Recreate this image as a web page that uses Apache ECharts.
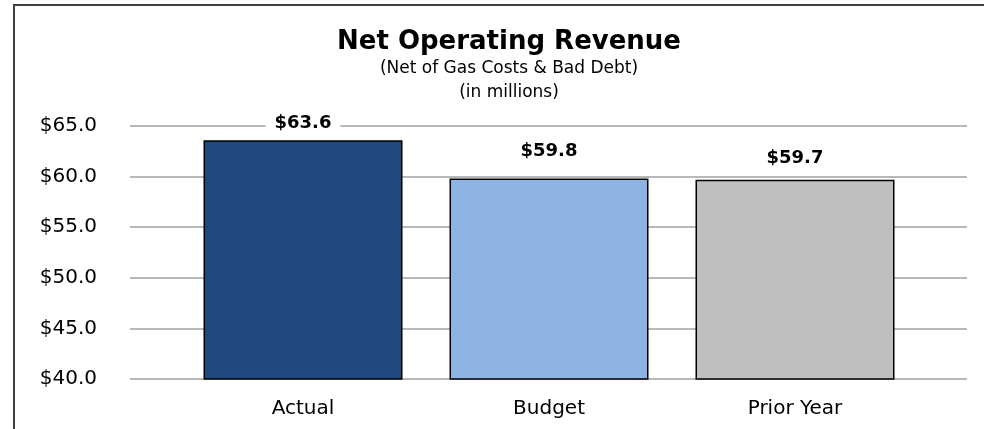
<!DOCTYPE html>
<html>
<head>
<meta charset="utf-8">
<title>Net Operating Revenue</title>
<script src="https://cdn.jsdelivr.net/npm/echarts@6/dist/echarts.min.js"></script>
<style>
  html, body { margin: 0; padding: 0; background: #ffffff; }
  #chart { width: 984px; height: 429px; }
</style>
</head>
<body>
<div id="chart"></div>
<script>
// Revenue figures, in millions of dollars
const categories = ['Actual', 'Budget', 'Prior Year'];
const revenue = [63.6, 59.8, 59.7];
const yTicks = [40, 45, 50, 55, 60, 65];

const barColors = ['#1F497D', '#8DB3E2', '#BFBFBF'];
const labelGap = [6, 16, 10];

const chart = echarts.init(document.getElementById('chart'), null, { renderer: 'canvas' });

const yMin = yTicks[0];
const yMax = yTicks[yTicks.length - 1];
const yStep = yTicks[1] - yTicks[0];
const font = 'DejaVu Sans';

chart.setOption({
  animation: false,
  backgroundColor: '#ffffff',
  title: {
    text: 'Net Operating Revenue',
    subtext: '(Net of Gas Costs & Bad Debt)\n(in millions)',
    left: 504,
    top: 24,
    textAlign: 'center',
    itemGap: 2,
    textStyle: { fontFamily: font, fontSize: 26, fontWeight: 'bold', color: '#000000' },
    subtextStyle: { fontFamily: font, fontSize: 17, color: '#000000', lineHeight: 24 }
  },
  grid: [
    // value scale and gridlines
    { left: 130, right: 17, top: 126, bottom: 50 },
    // bars
    { left: 180, right: 66, top: 126, bottom: 50 }
  ],
  xAxis: [
    { gridIndex: 0, type: 'value', show: false },
    {
      gridIndex: 1,
      type: 'category',
      data: categories,
      axisLine: { show: false },
      axisTick: { show: false },
      axisLabel: { margin: 20, fontFamily: font, fontSize: 20, color: '#000000' }
    }
  ],
  yAxis: [
    {
      gridIndex: 0,
      type: 'value',
      min: yMin,
      max: yMax,
      interval: yStep,
      axisLine: { show: false },
      axisTick: { show: false },
      axisLabel: {
        margin: 33,
        fontFamily: font,
        fontSize: 20,
        color: '#000000',
        formatter: v => '$' + v.toFixed(1)
      },
      splitLine: { show: true, lineStyle: { color: '#A0A0A0', width: 1.5 } }
    },
    { gridIndex: 1, type: 'value', min: yMin, max: yMax, interval: yStep, show: false, splitLine: { show: false } }
  ],
  series: [{
    type: 'bar',
    xAxisIndex: 1,
    yAxisIndex: 1,
    barWidth: 199,
    data: revenue.map((v, i) => ({
      value: v,
      itemStyle: { color: barColors[i] },
      label: { distance: labelGap[i] }
    })),
    itemStyle: { borderColor: '#000000', borderWidth: 1.5 },
    label: {
      show: true,
      position: 'top',
      fontFamily: font,
      fontSize: 18,
      fontWeight: 'bold',
      color: '#000000',
      backgroundColor: '#ffffff',
      padding: [2, 9],
      formatter: p => '$' + p.value.toFixed(1)
    }
  }],
  graphic: [
    { type: 'line', shape: { x1: 14, y1: 5, x2: 984, y2: 5 }, style: { stroke: '#404040', lineWidth: 2 } },
    { type: 'line', shape: { x1: 14, y1: 4, x2: 14, y2: 429 }, style: { stroke: '#404040', lineWidth: 2 } }
  ]
});
</script>
</body>
</html>
